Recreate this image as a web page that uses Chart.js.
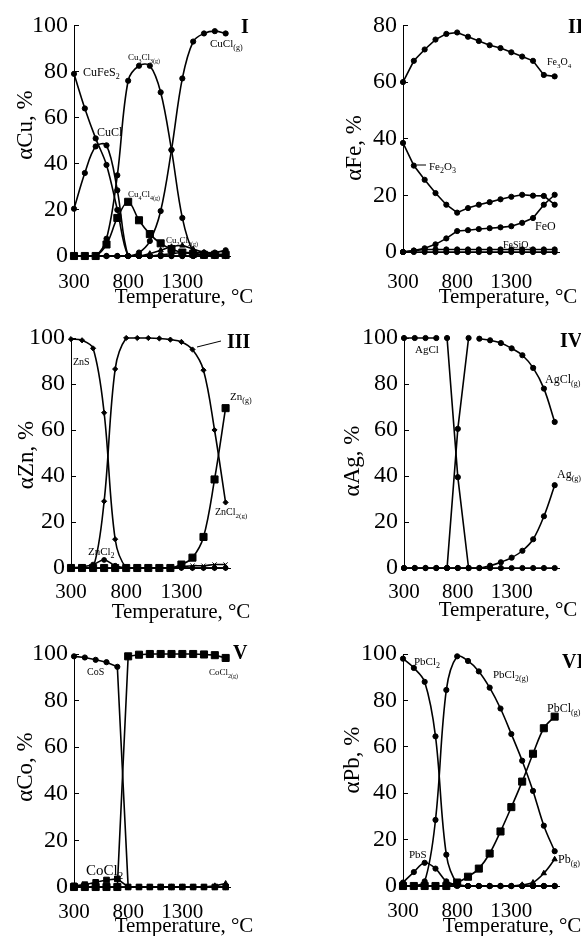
<!DOCTYPE html>
<html>
<head>
<meta charset="utf-8">
<script src="https://cdn.jsdelivr.net/npm/chart.js@4.4.1/dist/chart.umd.min.js"></script>
<style>
  body { margin: 0; background: #fff; width: 581px; height: 936px; position: relative; overflow: hidden; }
  canvas { position: absolute; }
</style>
</head>
<body>
<canvas id="c1" width="290" height="320" style="left:0;top:0"></canvas>
<canvas id="c2" width="291" height="320" style="left:290px;top:0"></canvas>
<canvas id="c3" width="290" height="320" style="left:0;top:310px"></canvas>
<canvas id="c4" width="291" height="320" style="left:290px;top:310px"></canvas>
<canvas id="c5" width="290" height="316" style="left:0;top:620px"></canvas>
<canvas id="c6" width="291" height="316" style="left:290px;top:620px"></canvas>
<script>
const temps = [300, 400, 500, 600, 700, 800, 900, 1000, 1100, 1200, 1300, 1400, 1500, 1600, 1700];
const tempTicks = [300, 800, 1300];
const zeros = temps.map(() => 0);

// I - copper
const cuFeS2 = [79, 64, 51, 39.5, 20, 0, 0, 0, 0, 0, 0, 0, 0, 0, 0];
const cuCl = [20.5, 36, 47.5, 48, 28.5, 0, 0, 0, 0, 0, 0, 0, 0, 0, 0];
const cu3Cl3g = [0, 0, 0, 7.5, 35, 76, 82.5, 82.5, 71, 46, 16.5, 2, 0.5, 0.5, 0.5];
const cu4Cl4g = [0, 0, 0, 5, 16.5, 23.5, 15.5, 9.5, 5.5, 3, 1.5, 1, 0.5, 0.5, 0.5];
const cuClg = [0, 0, 0, 0, 0, 0, 1.5, 6.5, 19.5, 46, 77, 93, 96.5, 97.5, 96.5];
const cu2Cl2g = [0, 0, 0, 0, 0, 0, 0, 1, 2.5, 4, 4.5, 3, 1.5, 1, 0.5];
const cuRest = [0, 0, 0, 0, 0, 0, 0, 0, 0.5, 1, 1.5, 1.5, 1.5, 1.5, 2.5];

// II - iron
const fe3O4 = [60, 67.5, 71.5, 75, 77, 77.5, 76, 74.5, 73, 72, 70.5, 69, 67.5, 62.5, 62];
const fe2O3 = [38.5, 30.5, 25.5, 20.8, 16.7, 13.9, 15.5, 16.7, 17.6, 18.6, 19.5, 20.2, 19.9, 19.8, 16.7];
const feO = [0, 0.5, 1.3, 2.7, 4.8, 7.4, 7.7, 8.1, 8.4, 8.7, 9.1, 10.3, 12, 16.7, 20.2];
const feSiO3 = [0, 0.5, 0.9, 0.9, 0.9, 0.9, 0.9, 0.9, 0.9, 0.9, 0.9, 0.9, 0.9, 0.9, 0.9];

// III - zinc
const znS = [99.5, 99, 95.5, 67.5, 12.5, 0, 0, 0, 0, 0, 0, 0, 0, 0, 0];
const znCl2g = [0, 0, 0, 29, 86.5, 100, 100, 100, 99.8, 99.3, 98.3, 95, 86, 60, 28.5];
const zng = [0, 0, 0, 0, 0, 0, 0, 0, 0, 0, 1.5, 4.5, 13.5, 38.5, 69.5];
const znCl2 = [0, 0.5, 1.5, 3.5, 1, 0, 0, 0, 0, 0, 0, 0, 0, 0, 0];
const znRest = [0, 0, 0, 0, 0, 0, 0, 0, 0, 0, 0.5, 1, 1, 1.5, 1.5];

// IV - silver
const agCl = [100, 100, 100, 100, null, null, null, null, null, null, null, null, null, null, null];
const agClMelt = [null, null, null, null, 100, 39.5, 0, null, null, null, null, null, null, null, null];
const agClgRise = [null, null, null, null, 0, 60.5, 100, null, null, null, null, null, null, null, null];
const agClg = [null, null, null, null, null, null, null, 99.7, 99, 97.8, 95.5, 92.5, 87, 78, 63.5];
const agg = [0, 0, 0, 0, 0, 0, 0, 0, 1, 2.5, 4.5, 7.5, 12.5, 22.5, 36];

// V - cobalt
const coS = [99, 98.5, 97.5, 96.5, 94.5, 0, 0, 0, 0, 0, 0, 0, 0, 0, 0];
const coCl2g = [0, 0, 0, 0, 0, 99, 99.7, 100, 100, 100, 100, 100, 99.8, 99.5, 98.3];
const coCl2 = [0.5, 1, 2, 3, 3.5, 0, 0, 0, 0, 0, 0, 0, 0, 0, 0];
const coRest = [0, 0, 0, 0, 0, 0, 0, 0, 0, 0, 0, 0, 0, 0.5, 1.5];

// VI - lead
const pbCl2 = [98, 94, 88, 64.5, 13.5, 1, 0, 0, 0, 0, 0, 0, 0, 0, 0];
const pbCl2g = [0, 0, 2, 28.5, 84.5, 99, 97, 92.5, 85.5, 76.5, 65.5, 54, 41, 26, 15];
const pbClg = [0, 0, 0, 0, 0, 1.5, 4, 7.5, 14, 23.5, 34, 45, 57, 68, 73];
const pbS = [1.5, 6, 10, 7.5, 2, 0.5, 0, 0, 0, 0, 0, 0, 0, 0, 0];
const pbg = [0, 0, 0, 0, 0, 0, 0, 0, 0, 0, 0, 0.5, 1.5, 5.5, 11.5];

const serif = "'Liberation Serif', 'Times New Roman', serif";

function series(values, marker, size, tension) {
  return {
    data: values,
    borderColor: '#000',
    backgroundColor: '#000',
    borderWidth: 1.6,
    pointStyle: marker,
    pointRadius: size,
    pointBorderWidth: 1,
    pointBorderColor: '#000',
    pointBackgroundColor: '#000',
    tension: tension,
    spanGaps: false,
    clip: false
  };
}

function drawNote(ctx, n) {
  const parts = n.t.split(/_\{([^}]*)\}/);
  const weight = n.b ? 'bold ' : '';
  const big = weight + n.s + 'px ' + serif;
  const small = weight + Math.round(n.s * 0.7) + 'px ' + serif;
  let w = 0;
  parts.forEach((p, i) => {
    ctx.font = i % 2 ? small : big;
    w += ctx.measureText(p).width;
  });
  ctx.save();
  ctx.translate(n.x, n.y);
  if (n.rot) ctx.rotate(-Math.PI / 2);
  ctx.textBaseline = n.c ? 'middle' : 'alphabetic';
  let x = n.c ? -w / 2 : 0;
  parts.forEach((p, i) => {
    ctx.font = i % 2 ? small : big;
    ctx.fillText(p, x, i % 2 ? n.s * 0.28 : 0);
    x += ctx.measureText(p).width;
  });
  ctx.restore();
}

const notesPlugin = {
  id: 'notes',
  afterDraw(chart, args, opts) {
    const ctx = chart.ctx;
    ctx.save();
    ctx.fillStyle = '#000';
    ctx.strokeStyle = '#000';
    ctx.lineWidth = 1;
    (opts.lines || []).forEach(pts => {
      ctx.beginPath();
      pts.forEach((p, i) => (i ? ctx.lineTo(p[0], p[1]) : ctx.moveTo(p[0], p[1])));
      ctx.stroke();
    });
    (opts.items || []).forEach(n => drawNote(ctx, n));
    ctx.restore();
  }
};

function makeChart(id, geo, yMax, yStep, datasets, notes) {
  const canvas = document.getElementById(id);
  const W = canvas.width, H = canvas.height;
  return new Chart(canvas, {
    type: 'line',
    data: { labels: temps, datasets: datasets },
    options: {
      responsive: false,
      animation: false,
      events: [],
      layout: { padding: { left: 0, top: geo.top, right: W - geo.right, bottom: 0 } },
      plugins: { legend: { display: false }, tooltip: { enabled: false }, notes: notes },
      scales: {
        x: {
          type: 'linear',
          min: 300,
          max: 1740,
          afterBuildTicks: s => { s.ticks = tempTicks.map(v => ({ value: v })); },
          afterFit: s => { s.height = H - geo.bottom; },
          grid: { display: false, drawTicks: false },
          border: { display: true, color: '#000', width: 1 },
          ticks: {
            color: '#000', font: { family: serif, size: 21 }, padding: geo.xPad,
            maxRotation: 0, autoSkip: false, callback: v => String(v)
          }
        },
        y: {
          min: 0,
          max: yMax,
          afterFit: s => { s.width = geo.left; },
          grid: { display: true, drawOnChartArea: false, drawTicks: true, tickLength: -5, color: '#000' },
          border: { display: true, color: '#000', width: 1 },
          ticks: { stepSize: yStep, color: '#000', font: { family: serif, size: 24 }, padding: 11 }
        }
      }
    },
    plugins: [notesPlugin]
  });
}

const S = 0.35;

makeChart('c1', { left: 74, top: 23, bottom: 256, right: 230, xPad: 14 }, 100, 20, [
  series(cuFeS2, 'circle', 2.6, S),
  series(cuCl, 'circle', 2.6, S),
  series(cu3Cl3g, 'circle', 2.6, S),
  series(cu4Cl4g, 'rect', 5, S),
  series(cuClg, 'circle', 2.6, S),
  series(cu2Cl2g, 'triangle', 3, S),
  series(cuRest, 'circle', 2.6, S)
], {
  items: [
    { t: 'I', x: 241, y: 33, s: 20, b: true },
    { t: 'CuFeS_{2}', x: 83, y: 76, s: 12 },
    { t: 'CuCl', x: 97, y: 136, s: 12 },
    { t: 'Cu_{3}Cl_{3(g)}', x: 128, y: 60, s: 9 },
    { t: 'Cu_{4}Cl_{4(g)}', x: 128, y: 197, s: 9 },
    { t: 'Cu_{2}Cl_{2(g)}', x: 166, y: 243, s: 9 },
    { t: 'CuCl_{(g)}', x: 210, y: 47, s: 11 },
    { t: 'αCu, %', x: 26, y: 125, s: 23, rot: true, c: true },
    { t: 'Temperature, °C', x: 184, y: 297, s: 21, c: true }
  ]
});

makeChart('c2', { left: 113, top: 24, bottom: 252, right: 269, xPad: 18 }, 80, 10, [
  series(fe3O4, 'circle', 2.6, 0),
  series(fe2O3, 'circle', 2.6, 0),
  series(feO, 'circle', 2.6, 0),
  series(feSiO3, 'circle', 2.6, 0),
  series(zeros, 'circle', 2.6, 0)
], {
  lines: [[[127, 165], [136, 165]]],
  items: [
    { t: 'II', x: 278, y: 33, s: 20, b: true },
    { t: 'Fe_{3}O_{4}', x: 257, y: 65, s: 10 },
    { t: 'Fe_{2}O_{3}', x: 139, y: 170, s: 11 },
    { t: 'FeO', x: 245, y: 230, s: 12 },
    { t: 'FeSiO_{3}', x: 213, y: 248, s: 10 },
    { t: 'αFe, %', x: 65, y: 148, s: 23, rot: true, c: true },
    { t: 'Temperature, °C', x: 218, y: 297, s: 21, c: true }
  ]
});

makeChart('c3', { left: 71, top: 28, bottom: 258, right: 230, xPad: 12 }, 100, 20, [
  series(znS, 'rectRot', 2.6, S),
  series(znCl2g, 'rectRot', 2.6, S),
  series(zng, 'rect', 5, S),
  series(znCl2, 'circle', 2.4, S),
  series(znRest, 'crossRot', 3, S)
], {
  lines: [[[197, 37], [221, 31]]],
  items: [
    { t: 'III', x: 227, y: 38, s: 20, b: true },
    { t: 'ZnS', x: 73, y: 55, s: 10 },
    { t: 'Zn_{(g)}', x: 230, y: 90, s: 11 },
    { t: 'ZnCl_{2(g)}', x: 215, y: 205, s: 10 },
    { t: 'ZnCl_{2}', x: 88, y: 245, s: 11 },
    { t: 'αZn, %', x: 27, y: 145, s: 23, rot: true, c: true },
    { t: 'Temperature, °C', x: 181, y: 302, s: 21, c: true }
  ]
});

makeChart('c4', { left: 114, top: 28, bottom: 258, right: 269, xPad: 12 }, 100, 20, [
  series(agCl, 'circle', 2.6, 0),
  series(agClMelt, 'circle', 2.6, 0),
  series(agClgRise, 'circle', 2.6, 0),
  series(agClg, 'circle', 2.6, S),
  series(agg, 'circle', 2.6, S),
  series(zeros, 'circle', 2.6, 0)
], {
  items: [
    { t: 'IV', x: 270, y: 37, s: 20, b: true },
    { t: 'AgCl', x: 125, y: 43, s: 11 },
    { t: 'AgCl_{(g)}', x: 255, y: 73, s: 12 },
    { t: 'Ag_{(g)}', x: 267, y: 168, s: 12 },
    { t: 'αAg, %', x: 63, y: 151, s: 23, rot: true, c: true },
    { t: 'Temperature, °C', x: 218, y: 300, s: 21, c: true }
  ]
});

makeChart('c5', { left: 74, top: 34, bottom: 267, right: 230, xPad: 13 }, 100, 20, [
  series(coS, 'circle', 2.6, 0),
  series(coCl2g, 'rect', 5, 0),
  series(coCl2, 'rect', 4, 0),
  series(coRest, 'triangle', 3, 0),
  series(zeros, 'circle', 2.6, 0)
], {
  items: [
    { t: 'V', x: 233, y: 39, s: 20, b: true },
    { t: 'CoS', x: 87, y: 55, s: 10 },
    { t: 'CoCl_{2(g)}', x: 209, y: 55, s: 9 },
    { t: 'CoCl_{2}', x: 86, y: 255, s: 15 },
    { t: 'αCo, %', x: 26, y: 147, s: 23, rot: true, c: true },
    { t: 'Temperature, °C', x: 184, y: 306, s: 21, c: true }
  ]
});

makeChart('c6', { left: 113, top: 34, bottom: 266, right: 269, xPad: 13 }, 100, 20, [
  series(pbCl2, 'circle', 2.6, S),
  series(pbCl2g, 'circle', 2.6, S),
  series(pbClg, 'rect', 5, S),
  series(pbS, 'circle', 2.6, S),
  series(pbg, 'triangle', 3, S),
  series(zeros, 'circle', 2.6, 0)
], {
  items: [
    { t: 'VI', x: 272, y: 48, s: 20, b: true },
    { t: 'PbCl_{2}', x: 124, y: 45, s: 11 },
    { t: 'PbCl_{2(g)}', x: 203, y: 58, s: 11 },
    { t: 'PbCl_{(g)}', x: 257, y: 92, s: 12 },
    { t: 'PbS', x: 119, y: 238, s: 11 },
    { t: 'Pb_{(g)}', x: 268, y: 243, s: 12 },
    { t: 'αPb, %', x: 63, y: 140, s: 23, rot: true, c: true },
    { t: 'Temperature, °C', x: 222, y: 306, s: 21, c: true }
  ]
});
</script>
</body>
</html>
